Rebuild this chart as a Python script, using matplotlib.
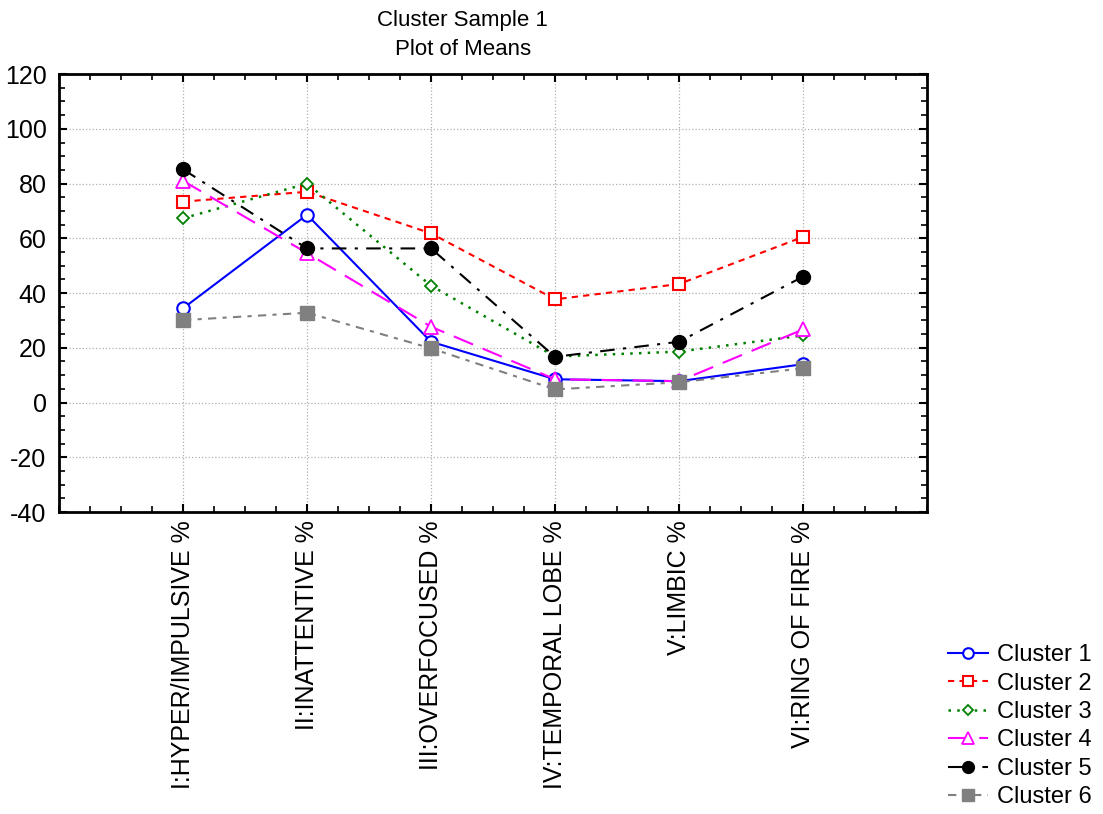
import matplotlib.pyplot as plt
from matplotlib.ticker import MultipleLocator

plt.rcParams['font.family'] = ['Liberation Sans', 'DejaVu Sans']
plt.rcParams['axes.unicode_minus'] = False

categorias = ["I:HYPER/IMPULSIVE %", "II:INATTENTIVE %", "III:OVERFOCUSED %",
              "IV:TEMPORAL LOBE %", "V:LIMBIC %", "VI:RING OF FIRE %"]

cluster1 = [34.4, 68.6, 22.2, 8.5, 7.8, 14.0]
cluster2 = [73.4, 77.0, 61.8, 37.7, 43.3, 60.5]
cluster3 = [67.3, 80.0, 42.7, 16.8, 18.6, 24.5]
cluster4 = [81.0, 54.6, 27.7, 8.5, 7.8, 26.7]
cluster5 = [85.2, 56.3, 56.3, 16.7, 22.2, 46.0]
cluster6 = [30.1, 32.8, 19.8, 4.8, 7.4, 12.5]

nombres = ["Cluster 1", "Cluster 2", "Cluster 3", "Cluster 4", "Cluster 5", "Cluster 6"]

fig = plt.figure(figsize=(11.03, 8.14), dpi=100)
ax = fig.add_axes([0.0535, 0.371, 0.787, 0.538])

x = range(1, len(categorias) + 1)

ax.plot(x, cluster1, color='blue', ls='-', lw=1.5, marker='o', ms=9,
        mfc='white', mec='blue', mew=1.5, label=nombres[0])
ax.plot(x, cluster2, color='red', ls=(0, (3, 2.5)), lw=1.5, marker='s', ms=9,
        mfc='white', mec='red', mew=1.5, label=nombres[1])
ax.plot(x, cluster3, color='green', ls=(0, (1, 2.5)), lw=1.8, marker='D', ms=6.5,
        mfc='white', mec='green', mew=1.3, label=nombres[2])
ax.plot(x, cluster4, color='magenta', ls=(0, (10, 5)), lw=1.5, marker='^', ms=9.5,
        mfc='white', mec='magenta', mew=1.3, label=nombres[3])
ax.plot(x, cluster5, color='black', ls=(0, (7, 4, 1.5, 4)), lw=1.5, marker='o', ms=10,
        mfc='black', mec='black', label=nombres[4])
ax.plot(x, cluster6, color='gray', ls=(0, (4, 3, 2, 3)), lw=1.5, marker='s', ms=9.5,
        mfc='gray', mec='gray', label=nombres[5])

ax.set_xlim(0, 7)
ax.set_ylim(-40, 120)
ax.set_xticks(list(x))
ax.set_xticklabels(categorias, rotation=90, fontsize=18)
ax.yaxis.set_major_locator(MultipleLocator(20))
ax.yaxis.set_minor_locator(MultipleLocator(5))
ax.xaxis.set_minor_locator(MultipleLocator(0.25))
ax.tick_params(axis='both', which='both', direction='in', top=True, right=True)
ax.tick_params(which='major', length=6, width=1.5, labelsize=18)
ax.tick_params(which='minor', length=4, width=1.2)
ax.tick_params(axis='y', pad=9)
ax.tick_params(axis='x', pad=6)
for s in ax.spines.values():
    s.set_linewidth(2)
ax.grid(True, which='major', color='#b0b0b0', ls=':', lw=0.9)
ax.set_axisbelow(True)

ax.set_title("Cluster Sample 1\nPlot of Means", fontsize=16, pad=14, linespacing=1.45,
             x=0.465)

fig.legend(loc='upper left', bbox_to_anchor=(0.8595, 0.2085), frameon=False,
           fontsize=17, handlelength=1.7, handletextpad=0.38, labelspacing=0.27,
           borderpad=0, borderaxespad=0, markerscale=0.85)

fig.savefig("out.png", dpi=100)
